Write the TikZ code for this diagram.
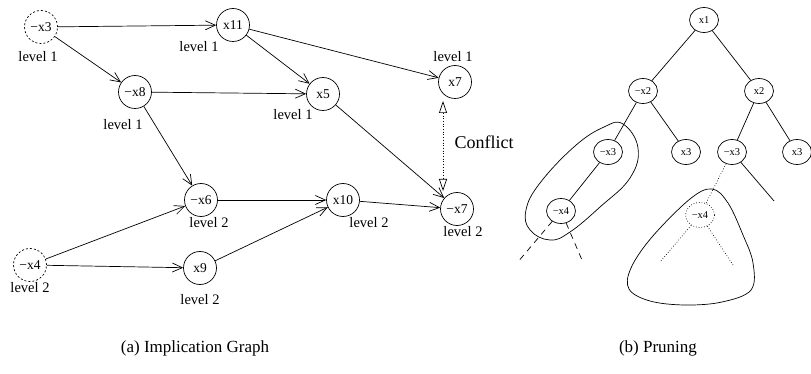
\documentclass[tikz,border=0pt]{standalone}
\usepackage{fontspec}
\setmainfont{Liberation Serif}
\usetikzlibrary{arrows.meta,shapes.geometric}

\begin{document}
\begin{tikzpicture}[x=1pt, y=-1pt, line width=0.7pt,
    var/.style={draw, circle, minimum size=33pt, inner sep=0pt, font=\fontsize{13.5}{15}\selectfont},
    dec/.style={var, dash pattern=on 2pt off 2pt},
    lvl/.style={font=\fontsize{14.5}{16}\selectfont},
    imp/.style={-{Straight Barb[length=10pt,width=9pt]}},
    lit/.style={draw, ellipse, minimum width=29pt, minimum height=25pt, inner sep=0pt, font=\fontsize{10.5}{12}\selectfont}]
  \useasboundingbox (0,0) rectangle (811,374);

  \node[dec] (nx3) at (41,27) {−x3};
  \node[var] (x11) at (233,25) {x11};
  \node[var] (nx8) at (135,92) {−x8};
  \node[var] (x5) at (323,94) {x5};
  \node[var] (x7) at (455,82) {x7};
  \node[var] (nx6) at (201,200) {−x6};
  \node[var] (x10) at (343,200) {x10};
  \node[var] (nx7) at (457,209) {−x7};
  \node[dec] (nx4) at (30,265) {−x4};
  \node[var] (x9) at (200,268) {x9};

  \node[lvl] (lnx3) at (38,57) {level 1};
  \node[lvl] (lx11) at (199,47) {level 1};
  \node[lvl] (lnx8) at (123,125) {level 1};
  \node[lvl] (lx5) at (293,115) {level 1};
  \node[lvl] (lx7) at (453,57) {level 1};
  \node[lvl] (lnx6) at (209,223) {level 2};
  \node[lvl] (lx10) at (369,223) {level 2};
  \node[lvl] (lnx7) at (463,232) {level 2};
  \node[lvl] (lnx4) at (30,288) {level 2};
  \node[lvl] (lx9) at (200,300) {level 2};

  \draw[imp] (nx3) -- (x11);
  \draw[imp] (nx3) -- (nx8);
  \draw[imp] (x11) -- (x5);
  \draw[imp] (x11) -- (x7);
  \draw[imp] (nx8) -- (x5);
  \draw[imp] (nx8) -- (nx6);
  \draw[imp] (x5) -- (nx7);
  \draw[imp] (nx6) -- (x10);
  \draw[imp] (x10) -- (nx7);
  \draw[imp] (nx4) -- (nx6);
  \draw[imp] (nx4) -- (x9);
  \draw[imp] (x9) -- (x10);

  \coordinate (ctop) at (443,101);
  \coordinate (cbot) at (443,191);
  \draw[dotted, {Triangle[open,length=12pt,width=8pt]}-{Triangle[open,length=12pt,width=8pt]}] (ctop) -- (cbot);
  \node[font=\fontsize{18}{20}\selectfont, anchor=west] (conf) at (451,142) {Conflict};

  \node[lit] (r) at (704,20) {x1};
  \node[lit] (a) at (643,91) {−x2};
  \node[lit] (b) at (759,91) {x2};
  \node[lit] (aa) at (608,152) {−x3};
  \node[lit] (ab) at (686,152) {x3};
  \node[lit] (ba) at (732,152) {−x3};
  \node[lit] (bb) at (797,152) {x3};
  \node[lit] (aaa) at (561,211) {−x4};
  \node[lit, dotted] (baa) at (700,215) {−x4};

  \coordinate (bab) at (774,201);
  \coordinate (aaal) at (517,263);
  \coordinate (aaar) at (582,260);
  \coordinate (baal) at (660,262);
  \coordinate (baar) at (733,265);

  \draw (r) -- (a);
  \draw (r) -- (b);
  \draw (a) -- (aa);
  \draw (a) -- (ab);
  \draw (b) -- (ba);
  \draw (b) -- (bb);
  \draw (aa) -- (aaa);
  \draw (ba) -- (bab);
  \draw[dotted] (ba) -- (baa);
  \draw[dash pattern=on 6pt off 5pt] (aaa) -- (aaal);
  \draw[dash pattern=on 6pt off 5pt] (aaa) -- (aaar);
  \draw[dotted] (baa) -- (baal);
  \draw[dotted] (baa) -- (baar);

  \draw plot[smooth cycle, tension=0.7] coordinates {(623,124) (638,148) (630,178) (600,207) (570,232) (550,240) (530,230) (526,210) (540,183) (575,146) (604,127)};
  \draw plot[smooth cycle, tension=0.6] coordinates {(712,189) (728,203) (743,235) (753,263) (751,290) (722,302) (685,305) (650,301) (629,289) (631,268) (652,237) (690,199)};

  \node[font=\fontsize{17}{20}\selectfont] (capa) at (195,348) {(a) Implication Graph};
  \node[font=\fontsize{17}{20}\selectfont] (capb) at (658,348) {(b) Pruning};
\end{tikzpicture}
\end{document}
